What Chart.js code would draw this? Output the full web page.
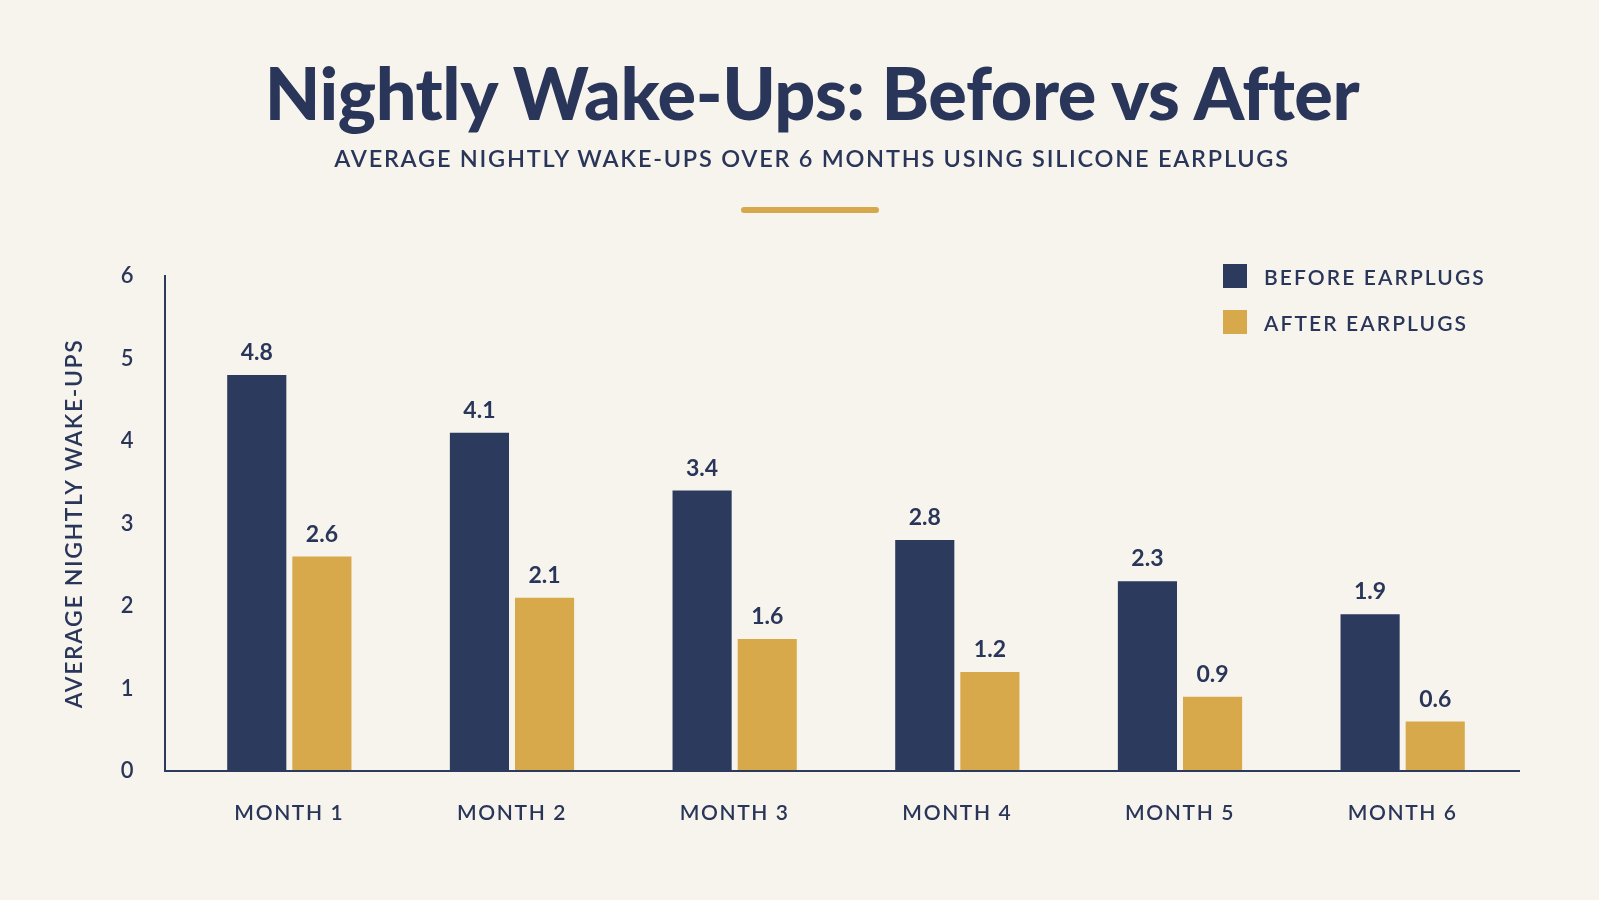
<!DOCTYPE html>
<html>
<head>
<meta charset="utf-8">
<script src="https://cdn.jsdelivr.net/npm/chart.js@4.4.1/dist/chart.umd.min.js"></script>
<style>
  html, body { margin: 0; padding: 0; }
  body { width: 1599px; height: 900px; background: #f7f4ed; position: relative; overflow: hidden; font-family: Lato, "Noto Sans", sans-serif; color: #2a3659; }
  #title { position: absolute; left: 0; width: 1624px; top: 44px; text-align: center; font-size: 72px; font-weight: 900; letter-spacing: -0.4px; line-height: 96px; }
  #subtitle { position: absolute; left: 0; width: 1624px; top: 143px; text-align: center; font-size: 23.5px; font-weight: 600; letter-spacing: 1.75px; line-height: 30px; }
  #rule { position: absolute; left: 741px; top: 207px; width: 138px; height: 6px; border-radius: 3px; background: #d6a84b; }
  #legend { position: absolute; left: 1223px; top: 264px; }
  .li { display: flex; align-items: center; height: 24px; margin-bottom: 22px; font-size: 21px; font-weight: 600; letter-spacing: 2.1px; white-space: nowrap; }
  .sw { width: 24px; height: 24px; margin-right: 17px; }
  #wrap { position: absolute; left: 0; top: 0; width: 1599px; height: 900px; }
</style>
</head>
<body>
<div id="wrap"><canvas id="c" width="1599" height="900"></canvas></div>
<div id="title">Nightly Wake-Ups: Before vs After</div>
<div id="subtitle">AVERAGE NIGHTLY WAKE-UPS OVER 6 MONTHS USING SILICONE EARPLUGS</div>
<div id="rule"></div>
<div id="legend"></div>
<script>
const categories = ["MONTH 1", "MONTH 2", "MONTH 3", "MONTH 4", "MONTH 5", "MONTH 6"];
const beforeValues = [4.8, 4.1, 3.4, 2.8, 2.3, 1.9];
const afterValues = [2.6, 2.1, 1.6, 1.2, 0.9, 0.6];
const seriesNames = ["BEFORE EARPLUGS", "AFTER EARPLUGS"];
const yTicks = [0, 1, 2, 3, 4, 5, 6];
const yAxisTitle = "AVERAGE NIGHTLY WAKE-UPS";

const NAVY = "#2c3a5e";
const GOLD = "#d8a94b";
const INK = "#2a3659";
const FONT = "Lato, 'Noto Sans', sans-serif";

const legend = document.getElementById("legend");
[NAVY, GOLD].forEach((col, i) => {
  const d = document.createElement("div");
  d.className = "li";
  d.innerHTML = '<div class="sw" style="background:' + col + '"></div><span>' + seriesNames[i] + '</span>';
  legend.appendChild(d);
});

const spacingPlugin = {
  id: "spacing",
  beforeDraw(chart) { chart.ctx.letterSpacing = "1.6px"; },
  beforeDatasetsDraw(chart) { chart.ctx.letterSpacing = "0px"; }
};

const axesPlugin = {
  id: "axesLines",
  afterDatasetsDraw(chart) {
    const { ctx, chartArea } = chart;
    const y = chart.scales.y;
    const x0 = chartArea.left - 13;
    const yb = y.getPixelForValue(0);
    ctx.save();
    ctx.strokeStyle = NAVY;
    ctx.lineWidth = 2;
    ctx.beginPath();
    ctx.moveTo(x0, y.getPixelForValue(6) - 1);
    ctx.lineTo(x0, yb);
    ctx.lineTo(chartArea.right + 6, yb);
    ctx.stroke();
    ctx.restore();
  }
};

const labelPlugin = {
  id: "valueLabels",
  afterDatasetsDraw(chart) {
    const { ctx } = chart;
    ctx.save();
    ctx.letterSpacing = "0px";
    ctx.font = "700 23px " + FONT;
    ctx.fillStyle = INK;
    ctx.textAlign = "center";
    ctx.textBaseline = "alphabetic";
    chart.data.datasets.forEach((ds, di) => {
      chart.getDatasetMeta(di).data.forEach((bar, i) => {
        ctx.fillText(ds.data[i].toFixed(1), bar.x, bar.y - 15);
      });
    });
    ctx.restore();
  }
};

new Chart(document.getElementById("c"), {
  type: "bar",
  data: {
    labels: categories,
    datasets: [
      { label: seriesNames[0], data: beforeValues, backgroundColor: NAVY },
      { label: seriesNames[1], data: afterValues, backgroundColor: GOLD }
    ]
  },
  options: {
    responsive: false,
    animation: false,
    devicePixelRatio: 1,
    categoryPercentage: 0.585,
    barPercentage: 0.908,
    layout: { padding: { left: 20, right: 85, top: 276, bottom: 75 } },
    plugins: { legend: { display: false }, tooltip: { enabled: false } },
    scales: {
      x: {
        grid: { display: false, drawTicks: false },
        border: { display: false },
        ticks: { color: INK, font: { family: FONT, size: 21, weight: "600" }, padding: 30 },
        afterFit(s) { s.height = 54; }
      },
      y: {
        min: 0, max: 6,
        grid: { display: false, drawTicks: false },
        border: { display: false },
        afterBuildTicks(s) { s.ticks = yTicks.map(v => ({ value: v })); },
        ticks: { color: INK, font: { family: FONT, size: 22, weight: "600" }, padding: 43 },
        title: { display: true, text: yAxisTitle, color: INK, font: { family: FONT, size: 23, weight: "600" }, padding: { top: 41, bottom: 0 } },
        afterFit(s) { s.width = 158; }
      }
    }
  },
  plugins: [spacingPlugin, axesPlugin, labelPlugin]
});
</script>
</body>
</html>
